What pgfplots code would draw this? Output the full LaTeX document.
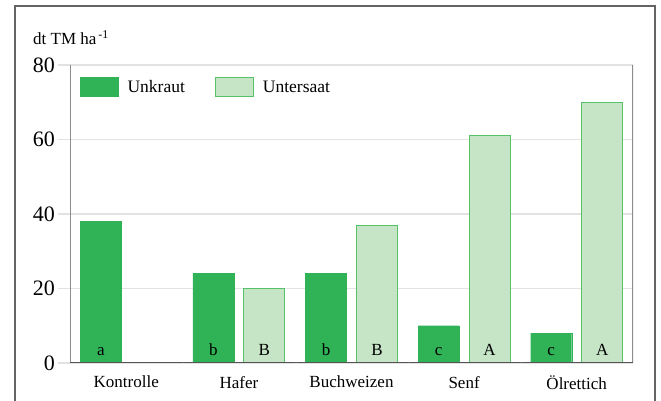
\documentclass[border=0pt]{standalone}
\usepackage{fontspec}
\setmainfont{Liberation Serif}
\usepackage{pgfplots}
\pgfplotsset{compat=1.18}
\definecolor{dg}{RGB}{48,179,87}
\definecolor{lg}{RGB}{198,229,198}
\definecolor{lgb}{RGB}{85,194,106}
\definecolor{framec}{RGB}{100,100,100}
\definecolor{spine}{RGB}{140,140,140}
\definecolor{axc}{RGB}{85,85,85}
\definecolor{gridc}{RGB}{226,226,226}
\begin{document}
\begin{tikzpicture}[x=1pt,y=1pt]
\useasboundingbox (0,0) rectangle (661,401);
\draw[framec, line width=2pt] (15,-2) -- (15,395) -- (655,395) -- (655,-2);
\node[anchor=base west, font=\fontsize{17}{20}\selectfont, inner sep=0pt] at (33,356) {dt TM ha\textsuperscript{\,-1}};
\begin{axis}[at={(70pt,38pt)}, anchor=south west, scale only axis,
  width=563pt, height=298pt,
  xmin=-0.5, xmax=4.5, ymin=0, ymax=80,
  axis line style={draw=none},
  ytick={0,20,40,60,80}, ytick pos=left,
  ymajorgrids, grid style={gridc, line width=1.5pt},
  major tick length=12pt, tick align=outside,
  y tick style={gridc, line width=1.5pt},
  xtick={0,1,2,3,4}, xtick pos=left,
  xticklabels={Kontrolle,Hafer,Buchweizen,Senf,Ölrettich},
  x tick style={draw=none},
  /pgf/number format/assume math mode=true,
  yticklabel style={font=\fontsize{22}{24}\selectfont, inner sep=0pt, xshift=-3pt},
  xticklabel style={font=\fontsize{17}{20}\selectfont, inner sep=0pt, yshift=-1pt},
  legend style={at={(0,1)}, anchor=north west, xshift=10pt, yshift=-12pt,
    draw=none, fill=none, inner sep=0pt, font=\fontsize{17.5}{20}\selectfont,
    /tikz/every odd column/.append style={column sep=7pt},
    /tikz/every even column/.append style={column sep=28pt}},
  legend columns=2, legend cell align=left,
]
\addplot[ybar, bar width=41pt, bar shift=-25.5pt, fill=dg, draw=dg,
  legend image code/.code={\draw[fill=dg, draw=dg] (0pt,-9.5pt) rectangle (38pt,9.5pt);}]
  coordinates {(0,38) (1,24) (2,24) (3,10) (4,8)};
\addlegendentry{Unkraut}
\addplot[ybar, bar width=41pt, bar shift=25.5pt, fill=lg, draw=lgb, line width=1pt,
  legend image code/.code={\draw[fill=lg, draw=lgb, line width=1pt] (0pt,-9.5pt) rectangle (38pt,9.5pt);}]
  coordinates {(1,20) (2,37) (3,61) (4,70)};
\addlegendentry{Untersaat}
\addplot[draw=none, forget plot, nodes near coords, point meta=explicit symbolic,
  every node near coord/.append style={anchor=south, inner sep=0pt, yshift=7pt, xshift=-25.5pt, font=\fontsize{17}{20}\selectfont, text=black}]
  coordinates {(0,0)[a] (1,0)[b] (2,0)[b] (3,0)[c] (4,0)[c]};
\addplot[draw=none, forget plot, nodes near coords, point meta=explicit symbolic,
  every node near coord/.append style={anchor=south, inner sep=0pt, yshift=7pt, xshift=25.5pt, font=\fontsize{17}{20}\selectfont, text=black}]
  coordinates {(1,0)[B] (2,0)[B] (3,0)[A] (4,0)[A]};
\draw[spine, line width=1.5pt] (rel axis cs:0,1) -- ([yshift=-9pt]rel axis cs:0,0);
\draw[spine, line width=1.5pt] (rel axis cs:1,1) -- (rel axis cs:1,0);
\draw[axc, line width=1.5pt] ([xshift=-12pt]rel axis cs:0,0) -- (rel axis cs:1,0);
\draw[spine, line width=1pt] (axis cs:0.5,0) -- ++(0,-9pt);
\draw[spine, line width=1pt] (axis cs:1.5,0) -- ++(0,-9pt);
\draw[spine, line width=1pt] (axis cs:2.5,0) -- ++(0,-9pt);
\draw[spine, line width=1pt] (axis cs:3.5,0) -- ++(0,-9pt);
\end{axis}
\end{tikzpicture}
\end{document}
